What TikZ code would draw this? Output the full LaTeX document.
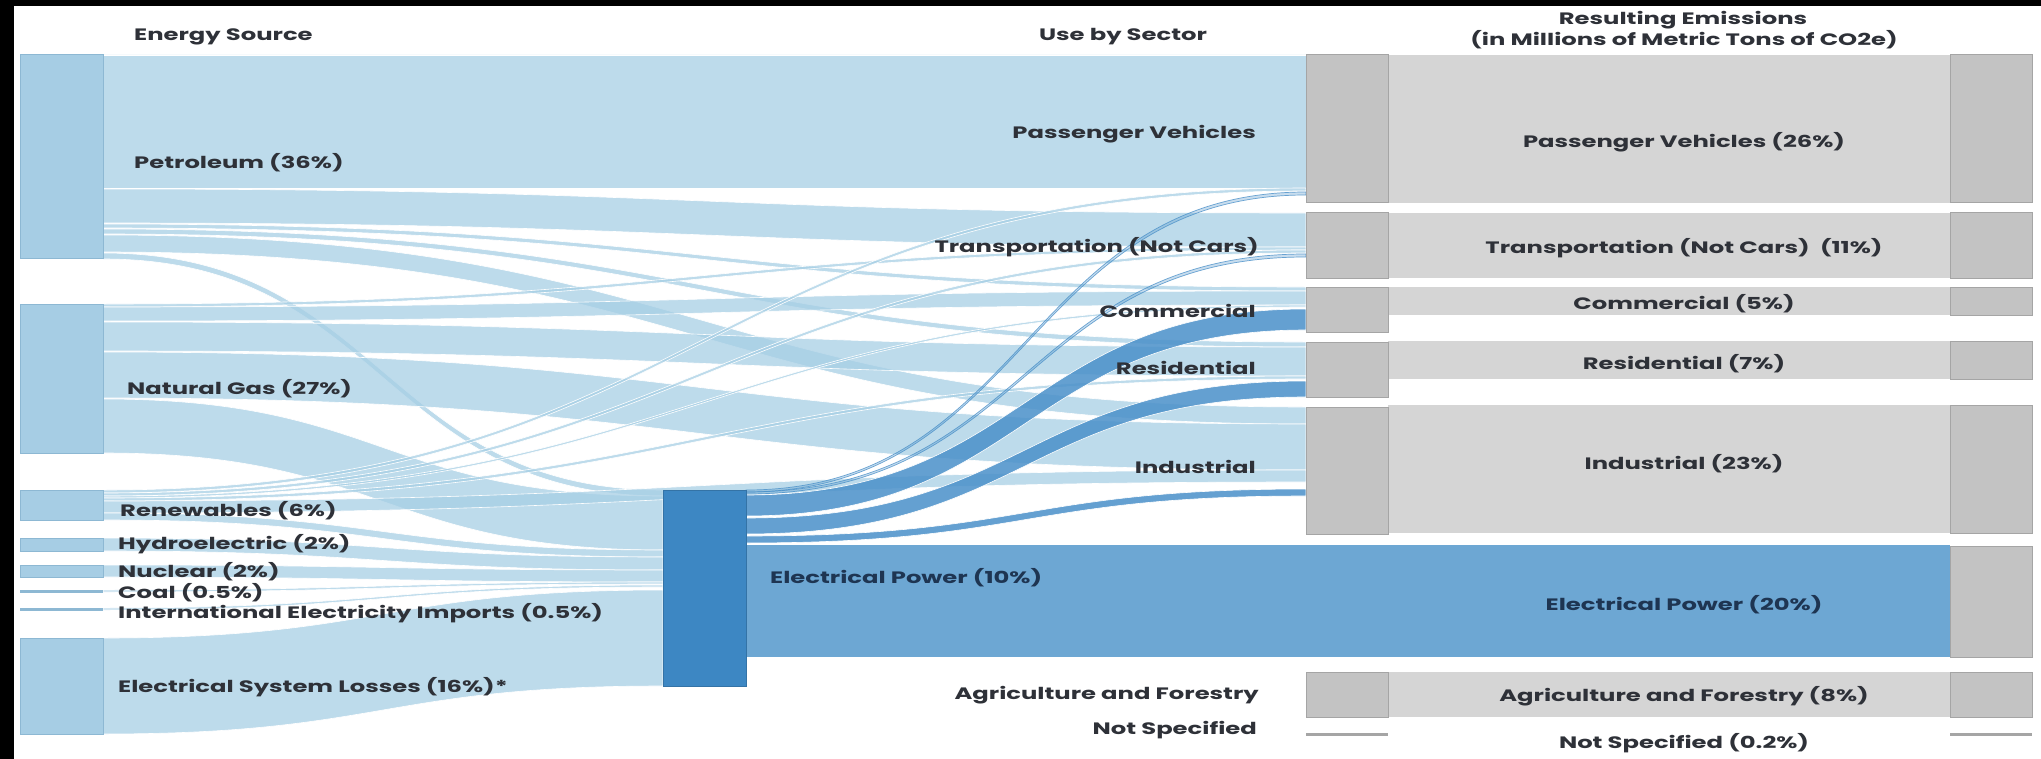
\documentclass[tikz,border=0pt]{standalone}
\usepackage{fontspec}
\setmainfont{Poppins}[FakeStretch=1.47]
\definecolor{srcbar}{HTML}{A6CDE4}
\definecolor{srcedge}{HTML}{8DB8D3}
\definecolor{flowlt}{HTML}{A7CFE5}
\definecolor{epbar}{HTML}{3D87C3}
\definecolor{epflow}{HTML}{4A90C9}
\definecolor{epbig}{HTML}{6DA7D3}
\definecolor{graybar}{HTML}{C3C3C3}
\definecolor{grayedge}{HTML}{A5A5A5}
\definecolor{grayband}{HTML}{D5D5D5}
\definecolor{txt}{HTML}{2E3138}
\definecolor{txtnavy}{HTML}{1E3552}
\newcommand\flowband[7]{%
  \pgfmathsetmacro\fbxm{(#2+#5)/2}%
  \path[#1] (#2,#3) .. controls (\fbxm,#3) and (\fbxm,#6) .. (#5,#6) -- (#5,#7) .. controls (\fbxm,#7) and (\fbxm,#4) .. (#2,#4) -- cycle;}
\newcommand\sbar[6]{%
  \pgfmathsetmacro\sbw{#5-#3}\pgfmathsetmacro\sbh{#6-#4}%
  \node[#1,anchor=north west,minimum width=\sbw pt,minimum height=\sbh pt,inner sep=0pt,outer sep=0pt] (#2) at (#3,#4) {};}
\begin{document}
\begin{tikzpicture}[x=1pt,y=-1pt,
  lt/.style={fill=flowlt,fill opacity=0.74,draw=white,line width=0.6pt},
  dk/.style={fill=epflow,fill opacity=0.85,draw=white,line width=0.6pt},
  dkthin/.style={fill=epflow,fill opacity=0.3,draw=epflow,draw opacity=0.8,line width=0.7pt},
  srcst/.style={fill=srcbar,draw=srcedge,line width=1pt},
  srcline/.style={fill=srcedge,draw=none},
  epst/.style={fill=epbar,draw=epbar!85!black,line width=0.8pt},
  grayst/.style={fill=graybar,draw=grayedge,line width=1pt},
  grayline/.style={fill=grayedge,draw=none},
  lbl/.style={text=txt,font=\fontsize{16.5}{18}\selectfont\bfseries,inner sep=0pt,text height=12pt,text depth=0pt},
  lblnavy/.style={lbl,text=txtnavy}]
\useasboundingbox (0,0) rectangle (2041,759);
\fill[white] (0,0) rectangle (2041,759);
\fill[black] (0,0) rectangle (14,759);
\fill[black] (0,0) rectangle (2041,6);

% ---------- light flows: petroleum
\flowband{lt}{103}{55}{188}{1306}{55}{188}
\flowband{lt}{103}{189}{223}{1306}{213}{247}
\flowband{lt}{103}{224}{228}{1306}{287}{291}
\flowband{lt}{103}{229}{234}{1306}{342}{347}
\flowband{lt}{103}{235}{252}{1306}{407}{424}
\flowband{lt}{103}{253}{259}{663}{490}{496}
% natural gas
\flowband{lt}{103}{304}{307}{1306}{247}{250}
\flowband{lt}{103}{307}{321}{1306}{291}{305}
\flowband{lt}{103}{322}{351}{1306}{347}{376}
\flowband{lt}{103}{352}{398}{1306}{424}{470}
\flowband{lt}{103}{399}{453}{663}{496}{550}
% renewables
\flowband{lt}{103}{490}{493}{1306}{188}{191}
\flowband{lt}{103}{493}{496}{1306}{250}{253}
\flowband{lt}{103}{496}{498}{1306}{305}{307}
\flowband{lt}{103}{498}{501}{1306}{376}{379}
\flowband{lt}{103}{501}{513}{1306}{470}{482}
\flowband{lt}{103}{513}{520}{663}{550}{557}
% hydro, nuclear, coal, imports, losses
\flowband{lt}{103}{538}{551}{663}{557}{570}
\flowband{lt}{103}{565}{577}{663}{570}{582}
\flowband{lt}{103}{590}{592}{663}{582}{584}
\flowband{lt}{103}{608}{610}{663}{585}{587}
\flowband{lt}{103}{638}{734}{663}{590}{686}

% ---------- gray emission bands
\fill[grayband] (1388,55) rectangle (1950,203);
\fill[grayband] (1388,213) rectangle (1950,278);
\fill[grayband] (1388,287) rectangle (1950,315);
\fill[grayband] (1388,341) rectangle (1950,379);
\fill[grayband] (1388,405) rectangle (1950,533);
\fill[grayband] (1388,672) rectangle (1950,717);

% ---------- electrical power flows
\fill[epbig] (746,545) rectangle (1950,657);
\flowband{dkthin}{746}{490}{492}{1306}{192}{195}
\flowband{dkthin}{746}{492}{494}{1306}{254}{257}
\flowband{dk}{746}{495}{516}{1306}{309}{330}
\flowband{dk}{746}{518}{534}{1306}{381}{397}
\flowband{dk}{746}{536}{543}{1306}{489}{496}

% ---------- bars
\sbar{srcst}{petro}{20}{55}{103}{259}
\sbar{srcst}{ngas}{20}{304}{103}{453}
\sbar{srcst}{renew}{20}{490}{103}{520}
\sbar{srcst}{hydro}{20}{538}{103}{551}
\sbar{srcst}{nucl}{20}{565}{103}{577}
\sbar{srcline}{coal}{20}{590}{103}{592.5}
\sbar{srcline}{impo}{20}{608}{103}{610.5}
\sbar{srcst}{loss}{20}{638}{103}{734}
\sbar{epst}{epwr}{663}{490}{746}{686}

\sbar{grayst}{pvA}{1306}{55}{1388}{203}
\sbar{grayst}{trA}{1306}{213}{1388}{278}
\sbar{grayst}{coA}{1306}{287}{1388}{332}
\sbar{grayst}{reA}{1306}{342}{1388}{397}
\sbar{grayst}{inA}{1306}{407}{1388}{534}
\sbar{grayst}{agA}{1306}{672}{1388}{717}
\sbar{grayline}{nsA}{1306}{732.5}{1388}{735.5}

\sbar{grayst}{pvB}{1950}{55}{2032}{203}
\sbar{grayst}{trB}{1950}{213}{2032}{278}
\sbar{grayst}{coB}{1950}{287}{2032}{315}
\sbar{grayst}{reB}{1950}{341}{2032}{379}
\sbar{grayst}{inB}{1950}{405}{2032}{533}
\sbar{grayst}{epB}{1950}{546}{2032}{657}
\sbar{grayst}{agB}{1950}{672}{2032}{717}
\sbar{grayline}{nsB}{1950}{732.5}{2032}{735.5}

% ---------- headers
\node[lbl,anchor=west] (hsrc) at (134,35) {Energy Source};
\node[lbl] (hsec) at (1123,35) {Use by Sector};
\node[lbl] (hem1) at (1683,19) {Resulting Emissions};
\node[lbl] (hem2) at (1684,40) {(in Millions of Metric Tons of CO2e)};

% ---------- source labels
\node[lbl,anchor=west] (lpetro) at (134,163) {Petroleum (36\%)};
\node[lbl,anchor=west] (lngas) at (127,388) {Natural Gas (27\%)};
\node[lbl,anchor=west] (lrenew) at (120,510) {Renewables (6\%)};
\node[lbl,anchor=west] (lhydro) at (118,543) {Hydroelectric (2\%)};
\node[lbl,anchor=west] (lnucl) at (118,571) {Nuclear (2\%)};
\node[lbl,anchor=west] (lcoal) at (118,592) {Coal (0.5\%)};
\node[lbl,anchor=west] (limpo) at (118,612) {International Electricity Imports (0.5\%)};
\node[lbl,anchor=west] (lloss) at (118,686) {Electrical System Losses (16\%)*};
\node[lblnavy,anchor=west] (lep) at (770,577) {Electrical Power (10\%)};

% ---------- sector labels
\node[lbl,anchor=east] (spv) at (1256,133) {Passenger Vehicles};
\node[lbl,anchor=east] (str) at (1259,247) {Transportation (Not Cars)};
\node[lbl,anchor=east] (sco) at (1256,311) {Commercial};
\node[lbl,anchor=east] (sre) at (1256,368) {Residential};
\node[lbl,anchor=east] (sin) at (1256,467) {Industrial};
\node[lbl,anchor=east] (sag) at (1259,693) {Agriculture and Forestry};
\node[lbl,anchor=east] (sns) at (1257,728) {Not Specified};

% ---------- emission labels
\node[lbl] (epv) at (1684,142) {Passenger Vehicles (26\%)};
\node[lbl] (etr) at (1684,248) {Transportation (Not Cars)\ \ (11\%)};
\node[lbl] (eco) at (1684,303) {Commercial (5\%)};
\node[lbl] (ere) at (1684,363) {Residential (7\%)};
\node[lbl] (ein) at (1684,463) {Industrial (23\%)};
\node[lblnavy] (eep) at (1684,604) {Electrical Power (20\%)};
\node[lbl] (eag) at (1684,695) {Agriculture and Forestry (8\%)};
\node[lbl] (ens) at (1684,742) {Not Specified (0.2\%)};
\end{tikzpicture}
\end{document}
